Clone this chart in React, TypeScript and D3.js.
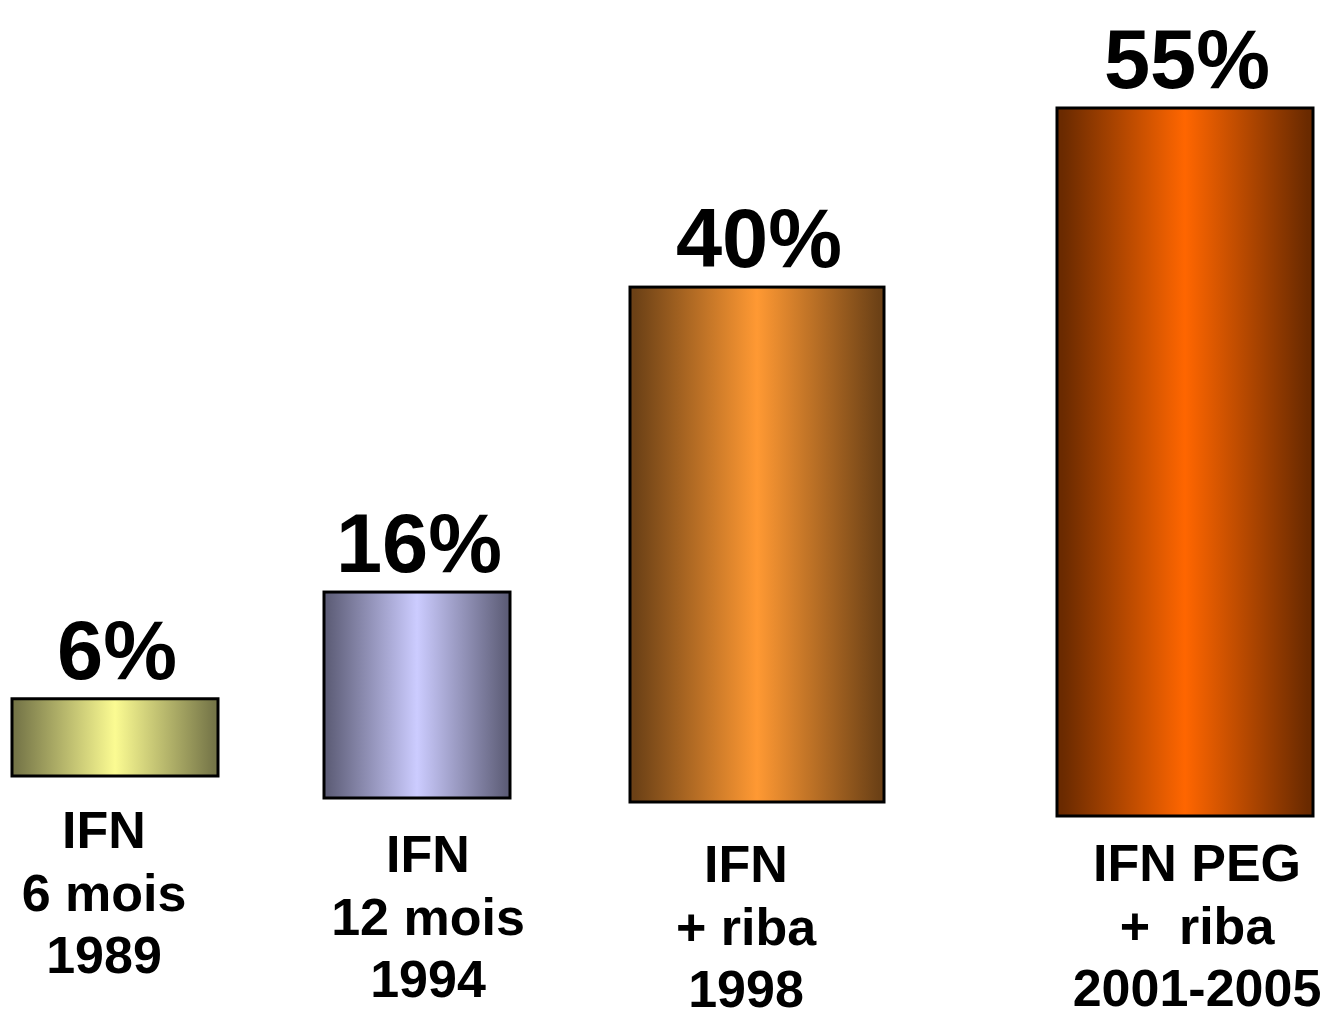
import React from "react";
import * as d3 from "d3";

// Sustained virological response rates by treatment era
const treatments = ["ifn6", "ifn12", "ifnRiba", "pegRiba"];
const responseRates = [6, 16, 40, 55];
const valueLabels = ["6%", "16%", "40%", "55%"];
const categoryLines = [
  ["IFN", "6 mois", "1989"],
  ["IFN", "12 mois", "1994"],
  ["IFN", "+ riba", "1998"],
  ["IFN PEG", "+  riba", "2001-2005"],
];

// Palette: edge shade and highlight for each cylinder-like bar
const palette = [
  { edge: "#767648", mid: "#fbfb92" },
  { edge: "#5e5e78", mid: "#ccccff" },
  { edge: "#6c4116", mid: "#ff9933" },
  { edge: "#6a2a00", mid: "#ff6600" },
];

// Slide layout (hand-placed shapes)
const layout = {
  centers: [115, 417, 757, 1185],
  widths: [206, 186, 254, 256],
  bottoms: [776, 798, 802, 816],
  labelCenters: [104, 428, 746, 1197],
  labelBaselines: [848, 872, 882, 881],
  lineGap: 62.5,
};

export default function App() {
  const W = 1332;
  const H = 1015;
  const height = d3.scaleLinear().domain([0, 55]).range([0, 708]);
  const xCenter = d3.scaleOrdinal<string, number>().domain(treatments).range(layout.centers);
  const font = "'Liberation Sans', Arial, Helvetica, sans-serif";

  return (
    <svg
      width={W}
      height={H}
      viewBox={`0 0 ${W} ${H}`}
      style={{ position: "absolute", left: 0, top: 0, background: "#fff" }}
    >
      <defs>
        {palette.map((p, i) => (
          <linearGradient key={i} id={`barGrad${i}`} x1="0" x2="1" y1="0" y2="0">
            <stop offset="0.02" stopColor={p.edge} />
            <stop offset="0.5" stopColor={p.mid} />
            <stop offset="0.98" stopColor={p.edge} />
          </linearGradient>
        ))}
      </defs>
      {treatments.map((t, i) => {
        const cx = xCenter(t);
        const w = layout.widths[i];
        const h = height(responseRates[i]);
        const bottom = layout.bottoms[i];
        const top = bottom - h;
        return (
          <g key={t}>
            <rect
              x={cx - w / 2}
              y={top}
              width={w}
              height={h}
              fill={`url(#barGrad${i})`}
              stroke="#000"
              strokeWidth={3}
            />
            <text
              x={cx + 2}
              y={top - 20}
              textAnchor="middle"
              fontFamily={font}
              fontWeight="bold"
              fontSize={83}
              fill="#000"
            >
              {valueLabels[i]}
            </text>
            {categoryLines[i].map((line, j) => (
              <text
                key={j}
                x={layout.labelCenters[i]}
                y={layout.labelBaselines[i] + j * layout.lineGap}
                textAnchor="middle"
                fontFamily={font}
                fontWeight="bold"
                fontSize={52}
                fill="#000"
                style={{ whiteSpace: "pre" }}
              >
                {line}
              </text>
            ))}
          </g>
        );
      })}
    </svg>
  );
}
